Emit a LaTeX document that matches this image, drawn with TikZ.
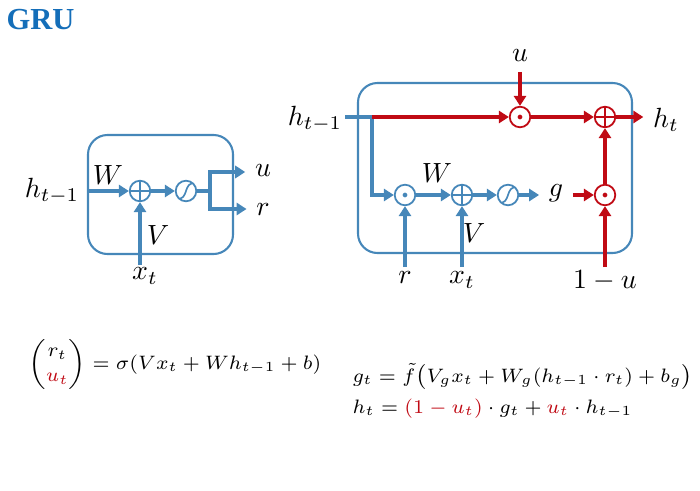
\documentclass[tikz,border=0pt]{standalone}
\usepackage{amsmath}
\usepackage{fontspec}
\newfontfamily\titlefont{Liberation Serif}
\usetikzlibrary{arrows.meta}
\definecolor{grublue}{RGB}{70,135,185}
\definecolor{grured}{RGB}{192,10,20}
\definecolor{titleblue}{RGB}{20,110,185}
\tikzset{
  cell/.style={draw=grublue,line width=0.75pt,rounded corners=7pt},
  wire/.style={line width=1.5pt},
  tip/.style={-{Triangle[length=3.6pt,width=4.4pt]}},
  gate/.style={circle,draw=#1,line width=0.65pt,minimum size=7.4pt,inner sep=0pt},
  oplus/.style={gate=#1,path picture={\draw[#1,line width=0.6pt] (path picture bounding box.north) -- (path picture bounding box.south) (path picture bounding box.west) -- (path picture bounding box.east);}},
  odot/.style={gate=#1,path picture={\fill[#1] (path picture bounding box.center) circle (0.85pt);}},
  sigm/.style={gate=#1,path picture={\draw[#1,line width=0.6pt,shift={(path picture bounding box.center)}] (-3.8pt,-3pt) .. controls (1.8pt,-3.2pt) and (-1.8pt,3.2pt) .. (3.8pt,3pt);}},
  eqn/.style={anchor=base west,inner sep=0pt,font=\fontsize{7.5}{9}\selectfont},
}
\begin{document}
\begin{tikzpicture}[x=0.36pt,y=-0.36pt]
\useasboundingbox (0,0) rectangle (700,491);
% Title
\node[anchor=north west,inner sep=0pt,text=titleblue] (title) at (6,9) {\titlefont\bfseries\fontsize{11}{13}\selectfont GRU};
% Drawing the small cell: gates r and u
\draw[cell] (88,135) rectangle (233,254);
\node (sh) at (52,191) {$h_{t-1}$};
\node[oplus=grublue] (sadd) at (140,191) {};
\node[sigm=grublue] (ssig) at (186,191) {};
\coordinate (sfork) at (210,191);
\coordinate (sforkt) at (210,172);
\coordinate (sforkb) at (210,209);
\node (su) at (263,171) {$u$};
\node (sr) at (263,210) {$r$};
\node (sx) at (145,276) {$x_t$};
\node (sW) at (108,175) {$W$};
\node (sV) at (158,235) {$V$};
\coordinate (sxin) at (140,265);
\draw[wire,tip,grublue] (sh) -- (sadd);
\draw[wire,tip,grublue] (sxin) -- (sadd);
\draw[wire,tip,grublue] (sadd) -- (ssig);
\draw[wire,grublue] (ssig) -- (sfork);
\draw[wire,grublue,line cap=rect] (sforkt) -- (sforkb);
\draw[wire,tip,grublue] (sforkt) -- (sforkt -| su.west);
\draw[wire,tip,grublue] (sforkb) -- (sforkb -| sr.west);
% Done with the small cell; drawing the large cell
\draw[cell] (358,83) rectangle (632,253);
\node (bh) at (315,119) {$h_{t-1}$};
\coordinate (bstart) at (345,117);
\coordinate (bsplit) at (372,117);
\node[odot=grured] (bmu) at (520,117) {};
\node[oplus=grured] (bsum) at (605,117) {};
\node (bht) at (666,120) {$h_t$};
\node (bu) at (520,56) {$u$};
% bottom row
\node[odot=grublue] (bmr) at (405,195) {};
\node[oplus=grublue] (badd) at (462,195) {};
\node[sigm=grublue] (bsig) at (508,195) {};
\node (bg) at (556,193) {$g$};
\node[odot=grured] (bmg) at (605,195) {};
\node (bW) at (437,173) {$W$};
\node (bV) at (474,233) {$V$};
\node (br) at (405,278) {$r$};
\node (bx) at (462,280) {$x_t$};
\node (bone) at (605,281) {$1-u$};
\coordinate (brin) at (405,267);
\coordinate (bxin) at (462,267);
\coordinate (bonein) at (605,267);
% blue wires
\draw[wire,grublue] (bstart) -- (bsplit);
\draw[wire,tip,grublue] (bsplit) |- (bmr);
\draw[wire,tip,grublue] (brin) -- (bmr);
\draw[wire,tip,grublue] (bmr) -- (badd);
\draw[wire,tip,grublue] (bxin) -- (badd);
\draw[wire,tip,grublue] (badd) -- (bsig);
\draw[wire,tip,grublue] (bsig) -- (bsig -| bg.west);
% red wires
\draw[wire,tip,grured] (bsplit) -- (bmu);
\draw[wire,tip,grured] (bu) -- (bmu);
\draw[wire,tip,grured] (bmu) -- (bsum);
\draw[wire,tip,grured] (bsum) -- (bsum -| bht.west);
\draw[wire,tip,grured] (bmg -| bg.east) -- (bmg);
\draw[wire,tip,grured] (bonein) -- (bmg);
\draw[wire,tip,grured] (bmg) -- (bsum);
% Done with cells; drawing equations
\node[eqn] (eqa) at (28,369) {$\begin{pmatrix} r_t\\ \color{grured}u_t\end{pmatrix} = \sigma(Vx_t + Wh_{t-1} + b)$};
\node[eqn] (eqb) at (352,382) {$g_t = \tilde{f}\bigl(V_g x_t + W_g(h_{t-1}\cdot r_t) + b_g\bigr)$};
\node[eqn] (eqc) at (352,413) {$h_t = {\color{grured}(1-u_t)}\cdot g_t + {\color{grured}u_t}\cdot h_{t-1}$};
% Done with equations
\end{tikzpicture}
\end{document}
